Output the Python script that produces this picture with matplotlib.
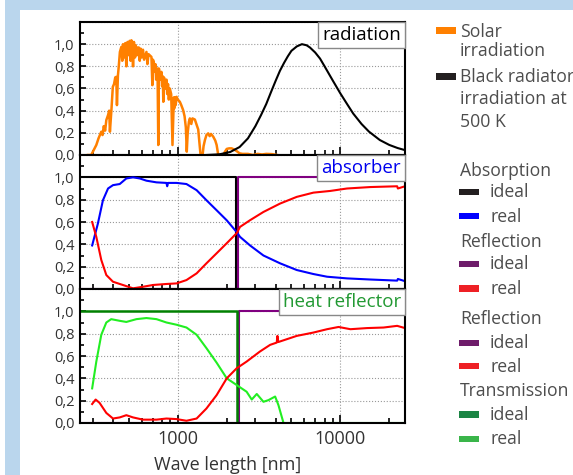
import matplotlib
matplotlib.use('Agg')
import matplotlib.pyplot as plt
from matplotlib.patches import Rectangle
from matplotlib.offsetbox import AnchoredText
from matplotlib.ticker import LogLocator, MultipleLocator, FuncFormatter, NullFormatter

plt.rcParams['font.family'] = ['Open Sans', 'DejaVu Sans']

W, H = 573, 475

# ---- radiation panel ----
solar_wl = [280, 293, 305, 315, 325, 338, 344, 350, 357, 363, 372, 378, 382, 390, 398, 405, 412,
            418, 422, 428, 433, 440, 449, 455, 460, 467, 475, 482, 486, 490, 500, 505, 512, 518,
            525, 530, 537, 545, 550, 560, 565, 575, 583, 590, 600, 610, 620, 641, 650, 660, 688,
            697, 703, 710, 720, 728, 735, 750, 758, 765, 780, 793, 800, 808, 814, 822, 840, 851,
            860, 870, 880, 892, 910, 927, 945, 950, 960, 970, 982, 1000, 1029, 1050, 1078, 1100,
            1120, 1135, 1150, 1170, 1186, 1210, 1230, 1273, 1300, 1335, 1360, 1380, 1420, 1440,
            1468, 1500, 1538, 1570, 1600, 1652, 1700, 1733, 1773, 1850, 1904, 1950, 2000, 2070,
            2142, 2220, 2302, 2400, 2500, 2700, 2900, 3100, 3300, 3500, 3800, 4080]
solar_irr = [0.0, 0.0, 0.05, 0.09, 0.15, 0.21, 0.18, 0.26, 0.22, 0.315, 0.36, 0.40, 0.21, 0.40,
             0.615, 0.64, 0.70, 0.705, 0.45, 0.72, 0.80, 0.93, 0.975, 0.85, 1.0, 0.88, 1.01, 0.80,
             0.95, 1.02, 0.90, 1.03, 0.85, 1.035, 1.0, 0.80, 1.02, 0.88, 0.99, 0.90, 0.97, 0.97,
             0.85, 0.96, 0.88, 0.95, 0.86, 0.93, 0.82, 0.91, 0.885, 0.63, 0.86, 0.84, 0.75, 0.82,
             0.68, 0.78, 0.09, 0.78, 0.68, 0.75, 0.62, 0.71, 0.48, 0.70, 0.60, 0.68, 0.55, 0.64,
             0.50, 0.60, 0.55, 0.09, 0.52, 0.42, 0.52, 0.45, 0.525, 0.50, 0.48, 0.45, 0.405, 0.35,
             0.25, 0.03, 0.20, 0.30, 0.33, 0.28, 0.33, 0.32, 0.28, 0.23, 0.10, 0.0, 0.0, 0.08,
             0.135, 0.18, 0.195, 0.17, 0.19, 0.165, 0.13, 0.09, 0.0, 0.0, 0.0, 0.03, 0.055, 0.06,
             0.06, 0.05, 0.035, 0.015, 0.01, 0.01, 0.0, 0.01, 0.005, 0.01, 0.008, 0.0]

bb_wl = [1500, 1800, 2100, 2400, 2700, 3000, 3250, 3500, 3750, 4000, 4250, 4500, 4750, 5000,
         5400, 5800, 6200, 6500, 7000, 7500, 8000, 9000, 10000, 11000, 12000, 13500, 15000,
         17500, 20000, 22500, 25000]
bb_irr = [0.0, 0.006, 0.027, 0.072, 0.15, 0.26, 0.36, 0.46, 0.57, 0.67, 0.76, 0.83, 0.89, 0.94,
          0.98, 1.0, 0.99, 0.97, 0.925, 0.87, 0.80, 0.67, 0.556, 0.46, 0.374, 0.28, 0.211,
          0.135, 0.091, 0.063, 0.044]

# ---- absorber panel ----
abs_ideal_wl = [250, 2290, 2290, 25000]
abs_ideal = [1, 1, 0, 0]
absrefl_ideal_wl = [250, 2360, 2360, 25000]
absrefl_ideal = [0, 0, 1, 1]

abs_real_wl = [297, 322, 346, 372, 399, 439, 482, 530, 583, 641, 739, 851, 860, 870, 982, 1130,
               1305, 1500, 1733, 2000, 2302, 2413, 2782, 3364, 4257, 5392, 6830, 8285, 10990,
               15300, 22370, 22600, 25000]
abs_real = [0.39, 0.585, 0.795, 0.90, 0.93, 0.94, 0.99, 1.0, 0.99, 0.97, 0.955, 0.95, 0.92, 0.95,
            0.95, 0.94, 0.885, 0.795, 0.705, 0.615, 0.51, 0.467, 0.39, 0.30, 0.23, 0.17, 0.134,
            0.11, 0.095, 0.085, 0.075, 0.09, 0.07]

absrefl_real_wl = [297, 315, 338, 363, 399, 459, 530, 610, 704, 851, 982, 1130, 1305, 1500, 1733,
                   2000, 2302, 2413, 2782, 3364, 4257, 5392, 6830, 8650, 10990, 15300, 22370,
                   22600, 25000]
absrefl_real = [0.60, 0.467, 0.26, 0.125, 0.065, 0.036, 0.006, 0.02, 0.036, 0.045, 0.05, 0.08,
                0.14, 0.23, 0.32, 0.41, 0.50, 0.556, 0.616, 0.69, 0.765, 0.825, 0.863, 0.878,
                0.90, 0.913, 0.92, 0.90, 0.92]

# ---- heat reflector panel ----
trans_ideal_wl = [250, 2320, 2320, 25000]
trans_ideal = [1, 1, 0, 0]
hrrefl_ideal_wl = [250, 2390, 2390, 25000]
hrrefl_ideal = [0, 0, 1, 1]

trans_real_wl = [297, 315, 338, 363, 389, 439, 482, 556, 641, 739, 851, 982, 1130, 1305, 1500,
                 1733, 2000, 2302, 2650, 2850, 3060, 3364, 3612, 3970, 4160, 4470, 25000]
trans_real = [0.31, 0.55, 0.79, 0.90, 0.93, 0.915, 0.905, 0.93, 0.94, 0.93, 0.90, 0.88, 0.855,
              0.79, 0.67, 0.54, 0.40, 0.34, 0.28, 0.21, 0.26, 0.19, 0.205, 0.237, 0.16, 0.0, 0.0]

hrrefl_real_wl = [297, 312, 330, 363, 399, 439, 482, 530, 610, 739, 851, 982, 1130, 1305, 1500,
                  1733, 2000, 2302, 2650, 3200, 3700, 4060, 4100, 4150, 5392, 6830, 8285, 9750,
                  11540, 14590, 18460, 22370, 25000]
hrrefl_real = [0.17, 0.21, 0.18, 0.09, 0.04, 0.05, 0.07, 0.05, 0.03, 0.03, 0.04, 0.035, 0.02,
               0.04, 0.13, 0.25, 0.40, 0.49, 0.55, 0.64, 0.70, 0.72, 0.78, 0.725, 0.78, 0.81,
               0.84, 0.86, 0.84, 0.85, 0.855, 0.87, 0.85]

fig = plt.figure(figsize=(W / 100, H / 100), dpi=100)
fig.patch.set_facecolor('white')
fig.add_artist(Rectangle((5 / W, 0), 1, 1, transform=fig.transFigure,
                         facecolor='#bad6ed', edgecolor='none', zorder=-10))
fig.add_artist(Rectangle((20 / W, 0), 1, 1 - 10 / H, transform=fig.transFigure,
                         facecolor='white', edgecolor='none', zorder=-9))


def px_axes(l, t, r, b):
    return fig.add_axes([l / W, 1 - b / H, (r - l) / W, (b - t) / H])


def style(ax, label, color, show_x):
    ax.set_xscale('log')
    ax.set_xlim(250, 25000)
    ax.set_ylim(0, 1.2)
    ax.xaxis.set_major_locator(LogLocator(base=10, numticks=10))
    ax.xaxis.set_minor_locator(LogLocator(base=10, subs=range(2, 10), numticks=20))
    ax.xaxis.set_minor_formatter(NullFormatter())
    if show_x:
        ax.xaxis.set_major_formatter(FuncFormatter(lambda v, p: '%d' % v))
    else:
        ax.xaxis.set_major_formatter(NullFormatter())
    ax.yaxis.set_major_locator(MultipleLocator(0.2))
    ax.yaxis.set_minor_locator(MultipleLocator(0.1))
    ax.yaxis.set_major_formatter(FuncFormatter(
        lambda v, p: ('%.1f' % v).replace('.', ',') if v < 1.05 else ''))
    ax.tick_params(which='both', direction='in', top=False, right=False, colors='black',
                   labelcolor='#333333')
    ax.tick_params(axis='x', which='major', length=6, width=1.2, labelsize=13, pad=5)
    ax.tick_params(axis='x', which='minor', length=3.5, width=1.2)
    ax.tick_params(axis='y', which='major', length=4.5, width=1.2, labelsize=10.5, pad=4)
    ax.tick_params(axis='y', which='minor', length=3, width=1.2)
    ax.grid(True, which='major', ls=':', color='#999999', lw=0.8)
    for s in ax.spines.values():
        s.set_linewidth(1.5)
        s.set_zorder(4)
    at = AnchoredText(label, loc='upper right', prop=dict(size=13.5, color=color),
                      frameon=True, borderpad=0, pad=0.22)
    at.patch.set_boxstyle('square,pad=0')
    at.patch.set_edgecolor('#888888')
    at.patch.set_linewidth(1)
    at.set_zorder(6)
    ax.add_artist(at)


ax1 = px_axes(80, 22, 405, 155)
ax2 = px_axes(80, 155, 405, 289)
ax3 = px_axes(80, 289, 405, 423)

ax1.plot(solar_wl, solar_irr, color='#ff8000', lw=1.8)
ax1.plot(bb_wl, bb_irr, color='black', lw=1.5)
style(ax1, 'radiation', 'black', False)

ax2.plot(abs_ideal_wl, abs_ideal, color='black', lw=1.5)
ax2.plot(absrefl_ideal_wl, absrefl_ideal, color='#800080', lw=1.5)
ax2.plot(abs_real_wl, abs_real, color='#0000ff', lw=1.5)
ax2.plot(absrefl_real_wl, absrefl_real, color='#ff0000', lw=1.5)
style(ax2, 'absorber', '#0000ee', False)

ax3.plot(hrrefl_ideal_wl, hrrefl_ideal, color='#800080', lw=1.5)
ax3.plot(trans_ideal_wl, trans_ideal, color='#008000', lw=1.8)
ax3.plot(trans_real_wl, trans_real, color='#22ee22', lw=1.5)
ax3.plot(hrrefl_real_wl, hrrefl_real, color='#ff0000', lw=1.5)
style(ax3, 'heat reflector', '#229933', True)

fig.text(228 / W, 1 - 470 / H, 'Wave length [nm]', ha='center', va='baseline',
         fontsize=13, color='#333333')

# ---- legend ----
tc = '#4d4d4d'


def ltext(x, y, s):
    fig.text(x / W, 1 - y / H, s, ha='left', va='baseline', fontsize=12.7, color=tc)


def lpatch(x0, x1, yc, h, color):
    fig.add_artist(Rectangle((x0 / W, 1 - (yc + h / 2) / H), (x1 - x0) / W, h / H,
                             transform=fig.transFigure, facecolor=color, edgecolor='none'))


lpatch(436, 456, 30.5, 6, '#ff8000')
ltext(460, 37, 'Solar')
ltext(460, 56.5, 'irradiation')
lpatch(436, 456, 76.5, 6, '#231f20')
ltext(460, 81.5, 'Black radiator')
ltext(460, 104.5, 'irradiation at')
ltext(460, 126.5, '500 K')

groups = [
    ('Absorption', 176, [('ideal', 197.3, '#231f20'), ('real', 221.7, '#0000ff')]),
    ('Reflection', 246.7, [('ideal', 269.3, '#6e1c6a'), ('real', 294, '#ee2025')]),
    ('Reflection', 324.3, [('ideal', 348.3, '#6e1c6a'), ('real', 371.7, '#ee2025')]),
    ('Transmission', 396, [('ideal', 420, '#1b8544'), ('real', 444.3, '#3ab54a')]),
]
for title, yb, items in groups:
    ltext(460, yb, title)
    for name, y, c in items:
        lpatch(459, 479, y - 5.5, 6.5, c)
        ltext(490, y, name)

fig.savefig('out.png', dpi=100)
